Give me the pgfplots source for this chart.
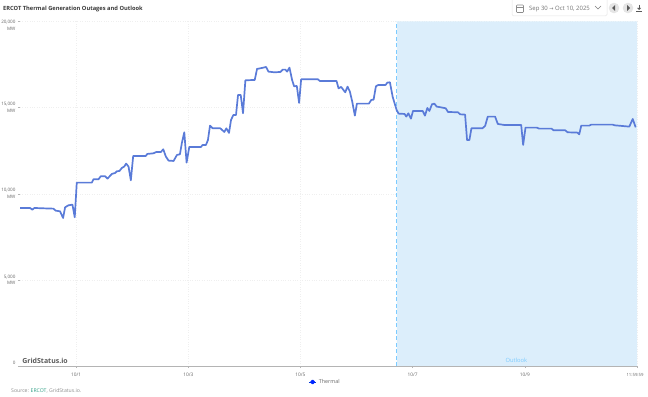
\documentclass[border=0pt]{standalone}
\usepackage{fontspec}
\setmainfont{Open Sans}
\newfontfamily\sym{DejaVu Sans}
\usepackage{pgfplots}
\pgfplotsset{compat=1.18}
\usepackage{pgfplotstable}
\definecolor{serie}{HTML}{5A7BD8}
\definecolor{shade}{HTML}{DCEEFB}
\definecolor{nowc}{HTML}{7CCBFF}
\definecolor{txt}{HTML}{666666}
\definecolor{grd}{HTML}{EFEFEF}
\definecolor{axl}{HTML}{B4B4B4}
\definecolor{tealc}{HTML}{2E9E84}
\pgfplotstableread{
day value
0 9174
0.179 9174
0.22 9077
0.256 9174
0.417 9154
0.595 9135
0.637 9019
0.714 8980
0.768 8593
0.804 9212
0.863 9328
0.935 9367
0.976 8632
1.012 10646
1.28 10646
1.31 10840
1.40 10840
1.44 11014
1.518 11014
1.56 10878
1.637 11149
1.696 11207
1.726 11304
1.774 11323
1.815 11498
1.857 11575
1.893 11749
1.935 11575
1.976 10782
2.018 12194
2.244 12194
2.268 12310
2.381 12349
2.429 12426
2.512 12426
2.554 12581
2.601 12155
2.649 11923
2.738 11904
2.798 12252
2.851 12291
2.887 12968
2.929 13568
2.97 11807
3.018 12717
3.226 12717
3.256 12833
3.315 12833
3.351 13123
3.387 13955
3.435 13800
3.571 13800
3.643 13587
3.679 13800
3.726 13529
3.762 14284
3.804 14574
3.851 14574
3.887 15735
3.935 15735
3.976 14671
4.018 16587
4.185 16606
4.226 17245
4.315 17303
4.387 17361
4.429 17090
4.536 17051
4.643 17070
4.685 17206
4.732 17206
4.762 17090
4.804 17322
4.851 16606
4.887 16238
4.935 16258
4.976 15271
5.012 16645
5.31 16645
5.345 16548
5.643 16548
5.679 16122
5.726 16200
5.798 15890
5.839 16219
5.881 15929
5.923 15348
5.97 14536
6.006 15232
6.22 15232
6.262 15445
6.304 15464
6.345 16238
6.387 16316
6.518 16316
6.548 16451
6.595 16471
6.643 15639
6.714 14865
6.75 14652
6.857 14632
6.887 14477
6.923 14671
6.97 14361
7.006 14806
7.179 14806
7.22 14536
7.262 14981
7.298 14806
7.345 15193
7.387 15232
7.429 15058
7.5 15019
7.589 14961
7.631 14748
7.81 14729
7.845 14613
7.935 14593
7.97 13123
8.012 13123
8.048 13800
8.244 13800
8.292 13936
8.339 14477
8.47 14477
8.518 14052
8.631 13994
8.935 13994
8.97 12833
9.012 13839
9.214 13839
9.256 13781
9.476 13781
9.512 13684
9.72 13684
9.762 13568
9.94 13549
9.97 13452
10.006 13955
10.149 13955
10.185 14013
10.565 14013
10.601 13974
10.863 13897
10.923 14342
10.976 13858
}\thermal
\pgfplotstableread{
day value
6.72 0
6.72 20000
11 20000
11 0
}\outlook
\pgfplotstableread{
day value
6.72 0
6.72 20000
}\nowline
\begin{document}
\begin{tikzpicture}[x=1bp,y=1bp]
\path[use as bounding box] (0,0) rectangle (648,396);
\begin{axis}[
  at={(20bp,30bp)}, anchor=south west,
  scale only axis, width=617bp, height=344.5bp,
  xmin=0, xmax=11, ymin=0, ymax=20000,
  axis line style={draw=none},
  axis x line*=bottom, axis y line*=left,
  axis on top=false,
  xtick={1,3,5,7,9,11},
  xticklabels={10/1,10/3,10/5,10/7,10/9,{\hspace*{-4pt}\fontsize{4.3}{5}\selectfont 11:59:59}},
  ytick={0,5000,10000,15000,20000},
  yticklabels={
    \raisebox{1.3pt}[4pt][4pt]{0},
    {\shortstack[r]{5,000\\MW}},
    {\shortstack[r]{10,000\\MW}},
    {\shortstack[r]{15,000\\MW}},
    {\raisebox{-9.3pt}[6pt][6pt]{\shortstack[r]{20,000\\MW}}}},
  scaled y ticks=false,
  tick style={draw=axl,line width=0.4pt},
  major tick length=2bp,
  tick align=outside,
  x tick label style={font=\fontsize{4.8}{5}\selectfont,text=txt,yshift=-1.5bp},
  y tick label style={font=\fontsize{4.6}{5}\selectfont,text=txt,xshift=1bp},
  grid=major,
  major grid style={draw=grd,line width=0.4pt,dotted},
  clip=false,
  legend style={at={(0.5,0)},anchor=north,yshift=-11bp,xshift=-3.5bp,draw=none,fill=none,
    font=\fontsize{5.4}{6}\selectfont,text=txt,inner sep=0pt},
  legend cell align=left,
]
\addplot[fill=shade,draw=none,forget plot] table[x=day,y=value] {\outlook} \closedcycle;
\addplot[nowc,line width=0.9bp,dash pattern=on 4bp off 2.5bp,forget plot] table[x=day,y=value] {\nowline};
\addplot[serie,line width=1.7bp,line join=round,
  legend image code/.code={
    \draw[blue!75!cyan!85!black,line width=0.9bp] (0cm,0cm) -- (0.27cm,0cm);
    \fill[blue!85!cyan] (0.135cm,0cm) circle (1.6bp);}]
  table[x=day,y=value] {\thermal};
\addlegendentry{Thermal}
\draw[axl,line width=0.9bp] (axis cs:0,0) -- (axis cs:11,0);
\node[font=\bfseries\fontsize{7}{9}\selectfont,text=black!65,anchor=base west,inner sep=0pt] at ([yshift=3bp,xshift=2.2bp]axis cs:0,0) {GridStatus.io};
\node[font=\fontsize{5.8}{7}\selectfont,text=nowc,anchor=base,inner sep=0pt] at ([yshift=3.6bp]axis cs:8.85,0) {Outlook};
\end{axis}
% title and chrome
\node[anchor=base west,inner sep=0pt,font=\bfseries\fontsize{5.75}{7}\selectfont,text=black!78] at (3,385.5) {ERCOT Thermal Generation Outages and Outlook};
\node[anchor=base west,inner sep=0pt,font=\fontsize{5.15}{6}\selectfont,text=black!45] at (11,3.5) {Source: \textcolor{tealc}{ERCOT}, GridStatus.io.};
\begin{scope}
\clip (0,0) rectangle (648,396);
\draw[black!10,fill=white,rounded corners=1.5bp,line width=0.5bp] (512,380) rectangle (607,400);
\end{scope}
\draw[black!45,line width=0.6bp,rounded corners=0.8bp] (516.5,383.5) rectangle (523.5,391);
\draw[black!45,line width=0.6bp] (516.5,389) -- (523.5,389);
\node[anchor=base west,inner sep=0pt,font=\fontsize{6}{7}\selectfont,text=black!55] at (529,385.8) {Sep 30 {\sym\fontsize{5}{6}\selectfont →} Oct 10, 2025};
\draw[black!50,line width=0.5bp] (595,390) -- (598,387) -- (601,390);
\fill[black!10] (614,388) circle (5.3);
\fill[black!10] (628,388) circle (5.3);
\fill[black!65] (612,388) -- (615,391) -- (615,385) -- cycle;
\fill[black!65] (630,388) -- (627,391) -- (627,385) -- cycle;
\draw[black!65,line width=0.6bp] (636,385) -- (642,385);
\draw[black!65,line width=0.6bp] (639,391) -- (639,387);
\fill[black!65] (637,388) -- (641,388) -- (639,386) -- cycle;
\end{tikzpicture}
\end{document}
